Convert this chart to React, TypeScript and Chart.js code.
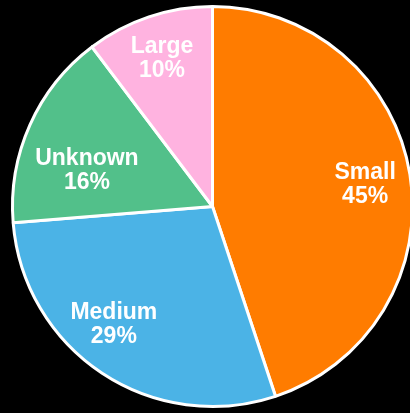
import React, { useEffect, useRef } from "react";
import { Chart, registerables } from "chart.js";

Chart.register(...registerables);

const categories = ["Small", "Medium", "Unknown", "Large"];
const shares = [44.9, 28.8, 16.0, 10.3];
const colors = ["#FF7C00", "#4BB3E6", "#52C08A", "#FFB3E0"];

// label placement tweaks (angle offset in degrees, radius fraction)
const labelAngleOffset = [0, 7, -7, 0];
const labelRadiusFraction = [0.773, 0.76, 0.657, 0.795];

const labelPlugin = {
  id: "sliceLabels",
  afterDatasetsDraw(chart: any) {
    const ctx = chart.ctx;
    const meta = chart.getDatasetMeta(0);
    ctx.save();
    ctx.fillStyle = "#ffffff";
    ctx.font = "bold 23px 'Liberation Sans', Arial, sans-serif";
    ctx.textAlign = "center";
    ctx.textBaseline = "alphabetic";
    meta.data.forEach((arc: any, i: number) => {
      const { x, y, startAngle, endAngle, outerRadius } = arc.getProps(
        ["x", "y", "startAngle", "endAngle", "outerRadius"],
        true
      );
      const mid = (startAngle + endAngle) / 2 + (labelAngleOffset[i] * Math.PI) / 180;
      const r = outerRadius * labelRadiusFraction[i];
      const cx = x + Math.cos(mid) * r;
      const cy = y + Math.sin(mid) * r;
      ctx.fillText(categories[i], cx, cy - 3);
      ctx.fillText(Math.round(shares[i]) + "%", cx, cy + 21);
    });
    ctx.restore();
  },
};

export default function App() {
  const ref = useRef<HTMLCanvasElement | null>(null);
  useEffect(() => {
    document.body.style.margin = "0";
    document.body.style.overflow = "hidden";
    document.body.style.background = "#000";
    const chart = new Chart(ref.current!, {
      type: "pie",
      data: {
        labels: categories,
        datasets: [
          {
            data: shares,
            backgroundColor: colors,
            borderColor: "#ffffff",
            borderWidth: 3,
          },
        ],
      },
      options: {
        responsive: false,
        animation: false,
        layout: { padding: { top: 5, bottom: 5, left: 0, right: 0 } },
        plugins: {
          legend: { display: false },
          tooltip: { enabled: false },
        },
      },
      plugins: [labelPlugin],
    });
    return () => chart.destroy();
  }, []);
  return (
    <div style={{ position: "absolute", left: 0, top: 0, width: 410, height: 413, overflow: "hidden", background: "#000" }}>
      <canvas ref={ref} width={425} height={413} style={{ display: "block" }} />
    </div>
  );
}
